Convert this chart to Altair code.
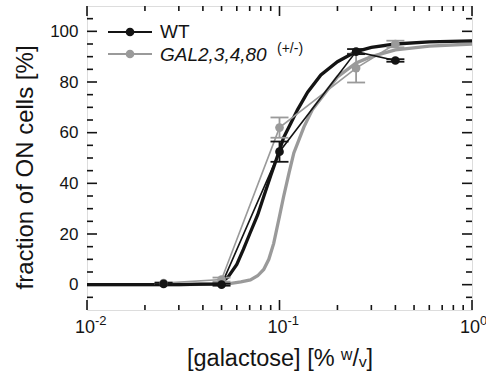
import altair as alt
import pandas as pd

# ---- data ----
conc = [0.025, 0.05, 0.1, 0.25, 0.4]
wt_mean = [0.3, 0.0, 52.5, 92.0, 88.5]
wt_err = [0.4, 0.4, 4.0, 1.0, 0.5]
gal_mean = [0.6, 2.0, 62.0, 85.5, 95.0]
gal_err = [0.4, 0.8, 4.0, 5.7, 1.3]

wt_fit_x = [0.01, 0.03, 0.045, 0.05, 0.054, 0.06, 0.065, 0.07, 0.077, 0.083, 0.09,
            0.1, 0.105, 0.115, 0.124, 0.14, 0.164, 0.2, 0.25, 0.3, 0.4, 0.6, 1.0]
wt_fit_y = [0, 0, 0.3, 1, 3, 8, 14, 20, 27.5, 35, 43,
            53, 58, 64, 69, 76, 82.8, 88, 92, 93.7, 95, 95.8, 96.2]
gal_fit_x = [0.01, 0.03, 0.05, 0.056, 0.063, 0.0706, 0.077, 0.0828, 0.088, 0.0933, 0.1,
             0.105, 0.112, 0.1187, 0.134, 0.148, 0.164, 0.2, 0.25, 0.3, 0.4, 0.6, 1.0]
gal_fit_y = [0, 0, 0.2, 0.55, 1.1, 1.9, 3.5, 6, 10, 16.3, 27,
             34.7, 44, 52, 62.3, 69, 73.5, 82, 87.5, 90, 92.7, 94.2, 95]

x_major = [0.01, 0.1, 1.0]
x_minor = [0.02, 0.03, 0.04, 0.05, 0.06, 0.07, 0.08, 0.09,
           0.2, 0.3, 0.4, 0.5, 0.6, 0.7, 0.8, 0.9]
x_exp = ["-2", "-1", "0"]
y_major = [0, 20, 40, 60, 80, 100]
y_minor = [-5, 5, 10, 15, 25, 30, 35, 45, 50, 55, 65, 70, 75, 85, 90, 95, 105]

legend_names = ["WT", "GAL2,3,4,80"]
legend_sup = "(+/-)"

# ---- styling ----
W, H = 385, 304
BLACK = "#141414"
GRAY = "#9a9a9a"
FONT = "Liberation Sans"

xs = alt.Scale(type="log", domain=[0.01, 1])
ys = alt.Scale(domain=[-10, 110], nice=False, zero=False)

xaxis = alt.Axis(title="[galactose] [% ʷ/ᵥ]", labels=False, ticks=False, domain=False, grid=False,
                 titleFontSize=23.5, titleFont=FONT, titleFontWeight="normal", titleColor=BLACK,
                 titleX=W / 2, titleY=55, titleBaseline="alphabetic", titleAlign="center")
yaxis = alt.Axis(title="fraction of ON cells [%]", values=y_major, ticks=False, domain=False, grid=False,
                 labelPadding=9, labelFontSize=17, labelFont=FONT, labelColor=BLACK,
                 titleFontSize=24, titleFont=FONT, titleFontWeight="normal", titleColor=BLACK,
                 titleX=-62, titleY=161, titleBaseline="middle", titleAlign="center")


def ex(field="x"):
    return alt.X(f"{field}:Q", scale=xs, axis=xaxis)


def ey(field="y"):
    return alt.Y(f"{field}:Q", scale=ys, axis=yaxis)


def pts_df(mean, err):
    return pd.DataFrame({"x": conc, "y": mean,
                         "lo": [m - e for m, e in zip(mean, err)],
                         "hi": [m + e for m, e in zip(mean, err)]})


wt = pts_df(wt_mean, wt_err)
gal = pts_df(gal_mean, gal_err)
wt_fit = pd.DataFrame({"x": wt_fit_x, "y": wt_fit_y})
gal_fit = pd.DataFrame({"x": gal_fit_x, "y": gal_fit_y})

layers = []

# frame ticks (inward)
xM = alt.Chart(pd.DataFrame({"x": x_major}))
xm = alt.Chart(pd.DataFrame({"x": x_minor}))
yM = alt.Chart(pd.DataFrame({"y": y_major}))
ym = alt.Chart(pd.DataFrame({"y": y_minor}))
tk = dict(color=BLACK, strokeWidth=1.6)
layers += [
    xM.mark_rule(**tk).encode(x=ex(), y=alt.value(H), y2=alt.value(H - 10)),
    xM.mark_rule(**tk).encode(x=ex(), y=alt.value(0), y2=alt.value(10)),
    xm.mark_rule(**tk).encode(x=ex(), y=alt.value(H), y2=alt.value(H - 5)),
    xm.mark_rule(**tk).encode(x=ex(), y=alt.value(0), y2=alt.value(5)),
    yM.mark_rule(**tk).encode(y=ey(), x=alt.value(0), x2=alt.value(10)),
    yM.mark_rule(**tk).encode(y=ey(), x=alt.value(W), x2=alt.value(W - 10)),
    ym.mark_rule(**tk).encode(y=ey(), x=alt.value(0), x2=alt.value(6)),
    ym.mark_rule(**tk).encode(y=ey(), x=alt.value(W), x2=alt.value(W - 6)),
]

# fitted curves
layers += [
    alt.Chart(gal_fit).mark_line(color=GRAY, strokeWidth=3.3).encode(x=ex(), y=ey()),
    alt.Chart(wt_fit).mark_line(color=BLACK, strokeWidth=3.3).encode(x=ex(), y=ey()),
]

# data series, error bars, points
for df, col in [(gal, GRAY), (wt, BLACK)]:
    c = alt.Chart(df)
    layers += [
        c.mark_line(color=col, strokeWidth=1.6).encode(x=ex(), y=ey()),
        c.mark_rule(color=col, strokeWidth=1.8).encode(x=ex(), y=ey("lo"), y2="hi:Q"),
        c.mark_tick(color=col, orient="horizontal", size=18, thickness=1.8, opacity=1).encode(x=ex(), y=ey("lo")),
        c.mark_tick(color=col, orient="horizontal", size=18, thickness=1.8, opacity=1).encode(x=ex(), y=ey("hi")),
    ]
for df, col in [(gal, GRAY), (wt, BLACK)]:
    layers.append(alt.Chart(df).mark_circle(color=col, size=75, opacity=1).encode(x=ex(), y=ey()))

# x tick labels 10^n
xl = alt.Chart(pd.DataFrame({"x": x_major, "exp": x_exp}))
layers += [
    xl.mark_text(text="10", align="right", baseline="alphabetic", dx=8, fontSize=18, font=FONT, color=BLACK)
      .encode(x=ex(), y=alt.value(H + 23)),
    xl.mark_text(align="left", baseline="alphabetic", dx=8, fontSize=13, font=FONT, color=BLACK)
      .encode(x=ex(), y=alt.value(H + 15), text="exp:N"),
]

# legend
leg_wt = alt.Chart(pd.DataFrame({"name": [legend_names[0]]}))
leg_gal = alt.Chart(pd.DataFrame({"name": [legend_names[1]], "sup": [legend_sup]}))
layers += [
    leg_wt.mark_rule(color=BLACK, strokeWidth=2).encode(x=alt.value(21), x2=alt.value(65), y=alt.value(26)),
    leg_wt.mark_circle(color=BLACK, size=75, opacity=1).encode(x=alt.value(43), y=alt.value(26)),
    leg_wt.mark_text(align="left", baseline="alphabetic", fontSize=19, font=FONT, color=BLACK)
          .encode(x=alt.value(73), y=alt.value(32), text="name:N"),
    leg_gal.mark_rule(color=GRAY, strokeWidth=2).encode(x=alt.value(21), x2=alt.value(65), y=alt.value(48)),
    leg_gal.mark_circle(color=GRAY, size=75, opacity=1).encode(x=alt.value(43), y=alt.value(48)),
    leg_gal.mark_text(align="left", baseline="alphabetic", fontSize=19, font=FONT, fontStyle="italic", color=BLACK)
           .encode(x=alt.value(73), y=alt.value(55), text="name:N"),
    leg_gal.mark_text(align="left", baseline="alphabetic", fontSize=14, font=FONT, color=BLACK)
           .encode(x=alt.value(190), y=alt.value(47), text="sup:N"),
]

chart = (
    alt.layer(*layers)
    .properties(width=W, height=H,
                autosize=alt.AutoSizeParams(type="none"),
                padding={"left": 87, "top": 6, "right": 14, "bottom": 61})
    .configure_view(stroke=BLACK, strokeWidth=2)
    .configure(font=FONT, background="white")
)

chart.save("out.html", embed_options={"renderer": "svg", "actions": False})
